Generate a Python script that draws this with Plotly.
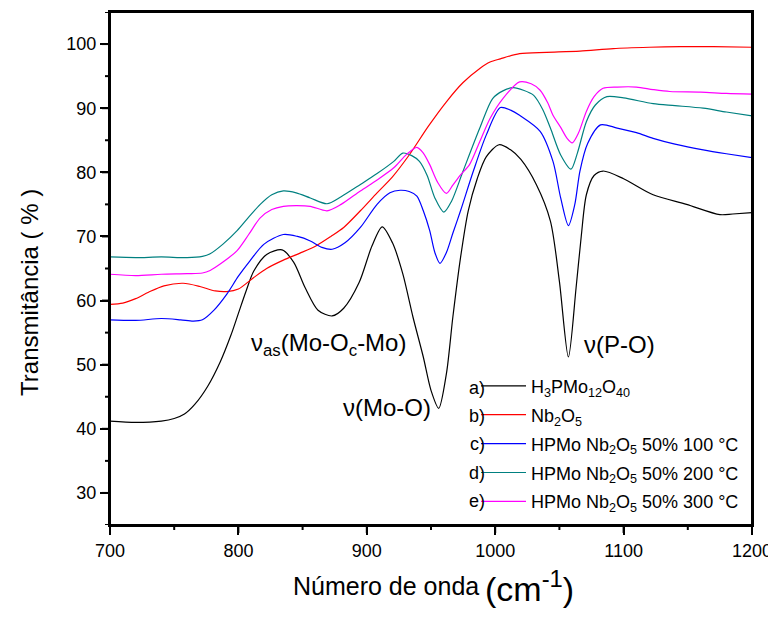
import plotly.graph_objects as go

# ---- data ----
wn_a = [700, 720, 740, 750, 758, 766, 776, 786, 794, 800, 806, 812, 822, 834, 843, 852, 862, 873, 882, 894,
        904, 912, 920, 928, 936, 944, 950, 956, 962, 967, 973, 979, 986, 993, 1003, 1012, 1020, 1032, 1043,
        1050, 1057, 1063, 1067, 1071, 1077, 1084, 1100, 1123, 1149, 1175, 1185, 1200]
t_a = [41.2, 41.0, 41.2, 41.6, 42.3, 43.8, 46.6, 50.5, 54.5, 58.0, 61.5, 64.6, 67.2, 67.9, 66.0, 62.0, 58.5, 57.6, 58.8, 62.8,
       68.5, 71.5, 69.0, 64.2, 57.4, 51.2, 46.0, 43.2, 48.6, 57.4, 66.7, 74.0, 79.0, 82.4, 84.3, 83.5, 82.0, 78.1, 72.4,
       63.0, 51.2, 62.0, 70.0, 76.5, 79.5, 80.2, 79.0, 76.5, 75.0, 73.4, 73.5, 73.7]

wn_b = [700, 710, 720, 730, 742, 757, 770, 782, 791, 800, 812, 822, 835, 848, 861, 872, 882, 895, 908, 920,
        933, 948, 962, 975, 988, 996, 1004, 1019, 1040, 1066, 1092, 1120, 1144, 1170, 1200]
t_b = [59.4, 59.6, 60.3, 61.3, 62.3, 62.7, 62.2, 61.5, 61.4, 61.8, 63.6, 65.0, 66.3, 67.4, 68.6, 70.0, 71.4, 74.0, 76.8, 79.3,
       82.7, 87.2, 91.0, 94.0, 96.2, 97.2, 97.7, 98.5, 98.7, 98.9, 99.3, 99.5, 99.6, 99.6, 99.5]

wn_c = [700, 720, 740, 755, 765, 772, 781, 791, 800, 809, 820, 835, 846, 856, 865, 873, 883, 895, 908, 918,
        926, 933, 939, 944, 949, 953, 957, 962, 967, 973, 983, 993, 1004, 1012, 1019, 1035, 1045, 1051, 1057,
        1062, 1066, 1072, 1082, 1095, 1110, 1123, 1140, 1162, 1180, 1200]
t_c = [57.0, 56.9, 57.2, 57.0, 56.8, 57.0, 58.5, 61.0, 63.8, 66.2, 68.8, 70.3, 70.0, 69.3, 68.3, 68.0, 69.0, 71.4, 75.0, 76.8,
       77.2, 77.0, 76.3, 74.0, 70.9, 67.5, 65.8, 67.5, 70.5, 74.0, 80.2, 85.8, 90.1, 89.7, 88.9, 86.4, 81.7, 76.0, 71.7,
       75.0, 80.2, 84.5, 87.4, 86.9, 86.2, 85.3, 84.4, 83.5, 82.9, 82.3]

wn_d = [700, 720, 740, 760, 772, 778, 788, 799, 808, 817, 826, 835, 845, 856, 869, 880, 895, 908, 921, 928,
        935, 941, 947, 953, 960, 966, 975, 988, 998, 1006, 1014, 1022, 1030, 1037, 1043, 1051, 1059, 1064,
        1071, 1078, 1087, 1100, 1123, 1140, 1162, 1180, 1200]
t_d = [66.8, 66.7, 66.8, 66.7, 66.9, 67.3, 68.8, 70.9, 73.0, 75.0, 76.5, 77.1, 76.8, 76.0, 75.1, 76.2, 78.1, 79.8, 81.7, 83.0,
       82.6, 81.7, 79.5, 76.0, 73.8, 75.5, 80.2, 86.9, 91.5, 92.7, 93.2, 92.8, 92.0, 89.8, 86.9, 82.7, 80.5, 83.0,
       87.9, 90.5, 91.8, 91.6, 90.7, 90.4, 90.0, 89.4, 88.8]

wn_e = [700, 720, 740, 760, 772, 778, 788, 799, 808, 817, 826, 835, 845, 856, 869, 880, 895, 908, 921, 931,
        939, 944, 949, 955, 962, 967, 973, 980, 988, 996, 1006, 1019, 1028, 1035, 1041, 1045, 1051, 1056,
        1060, 1065, 1071, 1077, 1084, 1095, 1110, 1123, 1136, 1160, 1180, 1200]
t_e = [64.1, 63.9, 64.1, 64.2, 64.3, 64.7, 66.0, 67.8, 70.3, 72.9, 74.2, 74.7, 74.8, 74.7, 74.0, 75.0, 77.1, 78.8, 80.7, 82.8,
       83.9, 83.0, 81.2, 78.5, 76.7, 78.0, 79.6, 81.2, 84.8, 88.4, 91.5, 94.1, 93.8, 92.8, 90.8, 88.9, 87.0, 85.3,
       84.6, 86.2, 89.5, 91.8, 93.1, 93.3, 93.3, 92.9, 92.6, 92.5, 92.3, 92.2]

series_names = ["H<sub>3</sub>PMo<sub>12</sub>O<sub>40</sub>",
                "Nb<sub>2</sub>O<sub>5</sub>",
                "HPMo Nb<sub>2</sub>O<sub>5</sub> 50% 100 °C",
                "HPMo Nb<sub>2</sub>O<sub>5</sub> 50% 200 °C",
                "HPMo Nb<sub>2</sub>O<sub>5</sub> 50% 300 °C"]
series_letters = ["a)", "b)", "c)", "d)", "e)"]
series_colors = ["#000000", "#FF0000", "#0000FF", "#008080", "#FF00FF"]
series_x = [wn_a, wn_b, wn_c, wn_d, wn_e]
series_y = [t_a, t_b, t_c, t_d, t_e]

band_labels = ["ν<sub>as</sub>(Mo-O<sub>c</sub>-Mo)", "ν(Mo-O)", "ν(P-O)"]
band_x = [870, 916, 1097]
band_y = [53.2, 43.3, 53.1]

x_major = [700, 800, 900, 1000, 1100, 1200]
x_minor = [750, 850, 950, 1050, 1150]
y_major = [30, 40, 50, 60, 70, 80, 90, 100]
y_minor = [25, 35, 45, 55, 65, 75, 85, 95, 105]

FONT = "Liberation Sans"

# plot area in page pixels (page body has an 8px offset)
PL, PR, PT, PB = 110, 752, 10, 525
PW, PH = PR - PL, PB - PT

fig = go.Figure()
for i in range(5):
    fig.add_trace(go.Scatter(
        x=series_x[i], y=series_y[i], mode="lines", name=series_names[i],
        line=dict(color=series_colors[i], width=1.2, shape="spline", smoothing=0.8),
        legendgroup=str(i)))

for txt, bx, by in zip(band_labels, band_x, band_y):
    fig.add_annotation(x=bx, y=by, xref="x", yref="y", text=txt, showarrow=False,
                       font=dict(size=24, color="black", family=FONT))

# legend letters
row_py = [387, 415.5, 444, 472.5, 501]
for letter, py in zip(series_letters, row_py):
    fig.add_annotation(x=(487 - PL) / PW, y=(PB - py) / PH, xref="paper", yref="paper",
                       text=letter, showarrow=False, xanchor="right", yanchor="middle",
                       font=dict(size=18, color="black", family=FONT))

# y title
fig.add_annotation(x=(30 - PL) / PW, y=(PB - 292) / PH, xref="paper", yref="paper",
                   text="Transmitância ( % )", textangle=-90,
                   showarrow=False, xanchor="center", yanchor="middle",
                   font=dict(size=24, color="black", family=FONT))

# x title in two sizes
fig.add_annotation(x=(481 - PL) / PW, y=(PB - 602) / PH, xref="paper", yref="paper",
                   text="Número de onda", showarrow=False, xanchor="right", yanchor="bottom",
                   font=dict(size=25, color="black", family=FONT))
fig.add_annotation(x=(483 - PL) / PW, y=(PB - 610) / PH, xref="paper", yref="paper",
                   text="(cm<sup>-1</sup>)", showarrow=False, xanchor="left", yanchor="bottom",
                   font=dict(size=34, color="black", family=FONT))

# frame and ticks also as shapes (backup for the axis lines)
frame = dict(color="#000000", width=2)
tickline = dict(color="#000000", width=2)
fig.add_shape(type="rect", xref="paper", yref="paper", x0=0, x1=1, y0=0, y1=1, line=frame, layer="above")
for v in x_major + x_minor:
    ln = 8 if v in x_major else 5
    fig.add_shape(type="line", xref="x", yref="paper", x0=v, x1=v, y0=0, y1=-ln / PH,
                  line=tickline, layer="above")
for v in y_major + y_minor:
    ln = 8 if v in y_major else 5
    fig.add_shape(type="line", xref="paper", yref="y", x0=0, x1=-ln / PW, y0=v, y1=v,
                  line=tickline, layer="above")

axis_common = dict(showline=True, linecolor="black", linewidth=2, mirror=True,
                   ticks="outside", tickcolor="black", tickwidth=2, ticklen=8,
                   showgrid=False, zeroline=False, showticklabels=True,
                   tickfont=dict(size=18, color="black", family=FONT))

fig.update_xaxes(range=[700, 1200], tickvals=x_major, **axis_common)
fig.update_yaxes(range=[25, 105], tickvals=y_major, **axis_common)

W, H = 768, 611
fig.update_layout(
    width=W, height=H,
    margin=dict(l=PL - 8, r=W - (PR - 8), t=PT - 8, b=H - (PB - 8)),
    paper_bgcolor="white", plot_bgcolor="white",
    font=dict(family=FONT, color="black"),
    showlegend=True,
    legend=dict(x=(476 - PL) / PW, y=(PB - 367) / PH, xanchor="left", yanchor="top",
                bgcolor="rgba(0,0,0,0)", borderwidth=0, tracegroupgap=2.5, itemwidth=45,
                font=dict(size=18, color="black", family=FONT)),
)

fig.write_html("out.html", config={"staticPlot": True})
